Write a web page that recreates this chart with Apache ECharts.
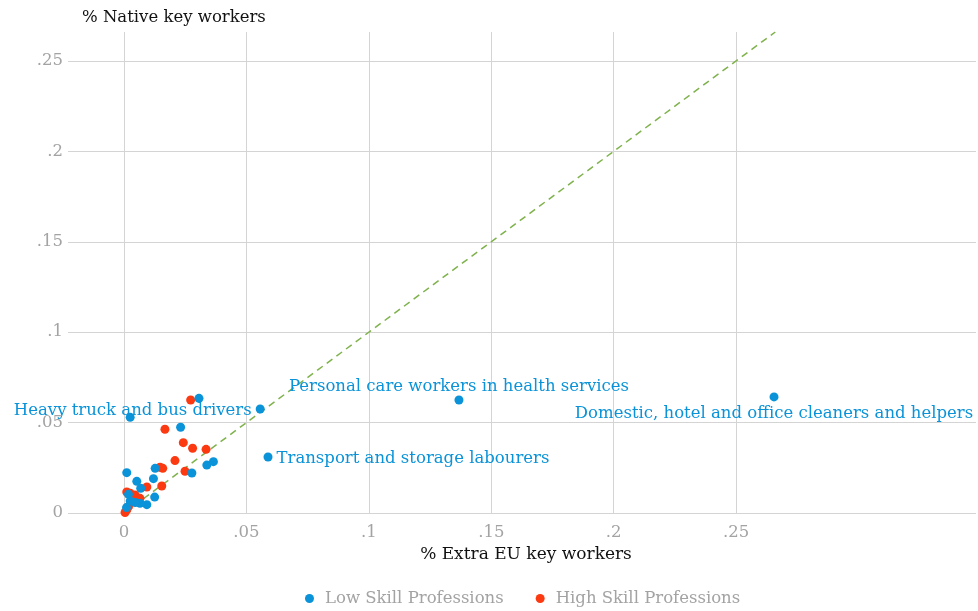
<!DOCTYPE html>
<html>
<head>
<meta charset="utf-8">
<script src="https://cdn.jsdelivr.net/npm/echarts@6/dist/echarts.min.js"></script>
<style>
  html, body { margin: 0; padding: 0; background: #fff; }
  #chart { width: 978px; height: 611px; }
</style>
</head>
<body>
<div id="chart"></div>
<script>
// ticks
const xTicks = [0, 0.05, 0.1, 0.15, 0.2, 0.25];
const yTicks = [0, 0.05, 0.1, 0.15, 0.2, 0.25];

// low skill professions [extra EU share, native share]
const lowSkill = [
    [0.2655, 0.0642], [0.1368, 0.0625], [0.0556, 0.0575], [0.0588, 0.0310],
    [0.0306, 0.0634], [0.0025, 0.0529], [0.0231, 0.0474], [0.0011, 0.0223],
    [0.0127, 0.0247], [0.0277, 0.0221], [0.0338, 0.0265], [0.0365, 0.0284],
    [0.0052, 0.0175], [0.0120, 0.0190], [0.0068, 0.0137], [0.0125, 0.0088],
    [0.0093, 0.0046], [0.0065, 0.0054], [0.0045, 0.0058], [0.0025, 0.0066],
    [0.0018, 0.0103], [0.0010, 0.0030]
];
// names of the labelled low skill points (by index)
const lowNames = [
    'Domestic, hotel and office cleaners and helpers',
    'Personal care workers in health services',
    'Heavy truck and bus drivers',
    'Transport and storage labourers'
];

const highSkill = [
    [0.0272, 0.0625], [0.0167, 0.0463], [0.0242, 0.0389], [0.0280, 0.0358],
    [0.0335, 0.0352], [0.0208, 0.0290], [0.0147, 0.0253], [0.0158, 0.0247],
    [0.0249, 0.0231], [0.0093, 0.0144], [0.0154, 0.0149], [0.0025, 0.0109],
    [0.0045, 0.0100], [0.0065, 0.0081], [0.0031, 0.0063], [0.0018, 0.0035],
    [0.0011, 0.0017], [0.0004, 0.0003], [0.0011, 0.0116]
];

// 45 degree reference line
const diag = [0, 0.266];

const BLUE = '#0a93d8';
const RED = '#fc3a12';
const GRAY = '#a3a3a3';
const FONT = "'DejaVu Serif', serif";
// label placement for the named points
const labelPos = ['bottom', 'top', 'left', 'right'];
const labelDist = [5, 0, 4, 4];
const labelOffset = [[0, -1], [0, 0], [0, 2], [0, 2]];

function fmt(v) {
    if (v === 0) return '0';
    return String(+v.toFixed(3)).replace(/^0\./, '.');
}

const lowData = lowSkill.map((p, i) => {
    if (i < lowNames.length) {
        return {
            value: p,
            name: lowNames[i],
            label: {
                show: true,
                formatter: lowNames[i],
                position: labelPos[i],
                distance: labelDist[i],
                offset: labelOffset[i],
                color: BLUE,
                fontFamily: FONT,
                fontSize: 16.5
            }
        };
    }
    return p;
});

const chart = echarts.init(document.getElementById('chart'));
chart.setOption({
    animation: false,
    textStyle: { fontFamily: FONT },
    title: {
        text: '% Native key workers',
        left: 77,
        top: 4,
        textStyle: { color: '#111', fontSize: 16.5, fontWeight: 'normal', fontFamily: FONT }
    },
    grid: { left: 68, right: 2, top: 32, bottom: 98, containLabel: false },
    xAxis: {
        type: 'value',
        min: -0.0229,
        max: 0.348,
        name: '% Extra EU key workers',
        nameLocation: 'middle',
        nameGap: 32,
        nameTextStyle: { color: '#111', fontSize: 17, fontFamily: FONT, padding: [0, 0, 0, 8] },
        axisLine: { show: false },
        axisTick: { show: false, customValues: xTicks },
        axisLabel: {
            customValues: xTicks,
            formatter: fmt,
            color: GRAY,
            fontSize: 16.5,
            fontFamily: FONT,
            margin: 11
        },
        splitLine: { show: true, lineStyle: { color: '#d4d4d4', width: 1 } }
    },
    yAxis: {
        type: 'value',
        min: 0,
        max: 0.266,
        axisLine: { show: false },
        axisTick: { show: false, customValues: yTicks },
        axisLabel: {
            customValues: yTicks,
            formatter: fmt,
            color: GRAY,
            fontSize: 16.5,
            fontFamily: FONT,
            margin: 5
        },
        splitLine: { show: true, lineStyle: { color: '#d4d4d4', width: 1 } }
    },
    legend: {
        bottom: -1,
        left: 300,
        itemGap: 32,
        itemWidth: 9,
        itemHeight: 9,
        textStyle: { color: GRAY, fontSize: 16.5, fontFamily: FONT, padding: [0, 0, 0, 6] },
        data: [
            { name: 'Low Skill Professions', icon: 'circle' },
            { name: 'High Skill Professions', icon: 'circle' }
        ]
    },
    series: [
        {
            type: 'line',
            data: [[diag[0], diag[0]], [diag[1], diag[1]]],
            symbol: 'none',
            silent: true,
            lineStyle: { color: '#7fb24c', width: 1.5, type: [7, 5] },
            z: 1
        },
        {
            name: 'Low Skill Professions',
            type: 'scatter',
            data: lowData,
            symbolSize: 9,
            itemStyle: { color: BLUE, opacity: 1 },
            z: 3
        },
        {
            name: 'High Skill Professions',
            type: 'scatter',
            data: highSkill,
            symbolSize: 9,
            itemStyle: { color: RED, opacity: 1 },
            z: 2
        }
    ]
});
</script>
</body>
</html>
